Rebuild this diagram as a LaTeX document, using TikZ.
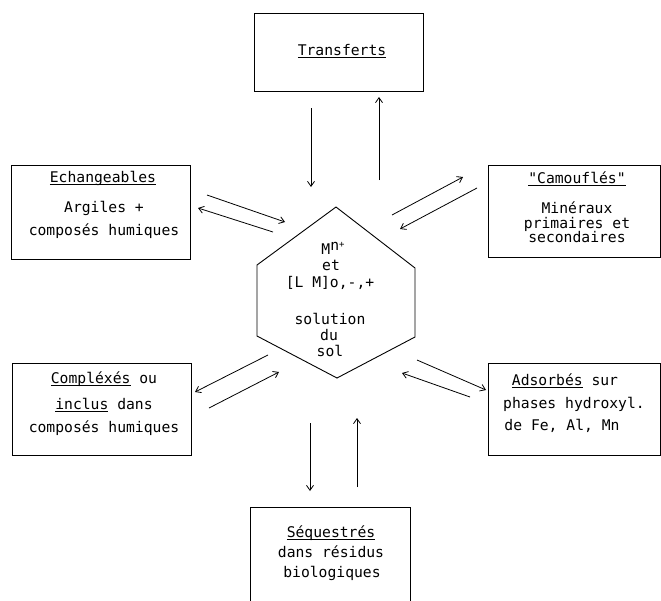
\documentclass[tikz,border=0pt]{standalone}
\usepackage{fontspec}
\newfontfamily\dvmono{DejaVu Sans Mono}
\usetikzlibrary{arrows.meta}
\newcommand\ulin[1]{\setbox0\hbox{#1}\rlap{\rule[-3pt]{\wd0}{0.8pt}}\box0\relax}
\begin{document}
\begin{tikzpicture}[x=1pt,y=-1pt,
  boxframe/.style={draw, line width=0.9pt, rectangle, inner sep=0pt},
  txt/.style={font=\fontsize{14.7}{16}\selectfont\dvmono, inner sep=0pt, anchor=base},
  flow/.style={line width=0.8pt, -{Straight Barb[length=5pt,width=7pt]}}]
\useasboundingbox (0,0) rectangle (661,600);
\clip (0,0) rectangle (661,600);
% boxes
\node[boxframe, minimum width=169pt, minimum height=78pt] (transf) at (338.5,52) {};
\node[boxframe, minimum width=179pt, minimum height=94pt] (ech) at (100.5,212) {};
\node[boxframe, minimum width=172pt, minimum height=92pt] (camo) at (574,211) {};
\node[boxframe, minimum width=179pt, minimum height=92pt] (compl) at (101.5,409) {};
\node[boxframe, minimum width=172pt, minimum height=92pt] (adsor) at (574,409) {};
\node[boxframe, minimum width=160pt, minimum height=113pt] (seq) at (330,563.5) {};
% hexagon
\coordinate (hT) at (336,207);
\coordinate (hUL) at (257,265);
\coordinate (hLL) at (257,336);
\coordinate (hB) at (337,378);
\coordinate (hLR) at (415,337);
\coordinate (hUR) at (415,268);
\draw[line width=0.9pt] (hT) -- (hUL) -- (hLL) -- (hB) -- (hLR) -- (hUR) -- cycle;
% texts
\node[txt] (tT) at (342,55) {\ulin{Transferts}};
\node[txt] (e1) at (103,182) {\ulin{Echangeables}};
\node[txt] (e2) at (104,212) {Argiles +};
\node[txt] (e3) at (104,235) {composés humiques};
\node[txt] (c1) at (577,183) {\ulin{"Camouflés"}};
\node[txt] (c2) at (577,213) {Minéraux};
\node[txt] (c3) at (577,228) {primaires et};
\node[txt] (c4) at (577,242) {secondaires};
\node[txt] (k1) at (104,383) {\ulin{Compléxés} ou};
\node[txt] (k2) at (104,409) {\ulin{inclus} dans};
\node[txt] (k3) at (104,432) {composés humiques};
\node[txt] (a1) at (565,385) {\ulin{Adsorbés} sur};
\node[txt] (a2) at (574,408) {phases hydroxyl.};
\node[txt] (a3) at (562,430) {de Fe, Al, Mn};
\node[txt] (s1) at (331,537) {\ulin{Séquestrés}};
\node[txt] (s2) at (331,557) {dans résidus};
\node[txt] (s3) at (332,577) {biologiques};
\node[txt] (h1) at (333,254) {M\raisebox{4pt}{n}\raisebox{7pt}{\fontsize{9}{9}\selectfont +}};
\node[txt] (h2) at (331,270) {et};
\node[txt] (h3) at (330,287) {[L M]o,-,+};
\node[txt] (h4) at (330,324) {solution};
\node[txt] (h5) at (329,340) {du};
\node[txt] (h6) at (330,356) {sol};
% arrow ends
\coordinate (t1a) at (311,108); \coordinate (t1b) at (311,187);
\coordinate (t2a) at (379,180); \coordinate (t2b) at (379,97);
\coordinate (e1a) at (207,195); \coordinate (e1b) at (285,222);
\coordinate (e2a) at (273,232); \coordinate (e2b) at (198,208);
\coordinate (c1a) at (392,215); \coordinate (c1b) at (463,177);
\coordinate (c2a) at (477,188); \coordinate (c2b) at (400,229);
\coordinate (k1a) at (268,355); \coordinate (k1b) at (195,392);
\coordinate (k2a) at (209,408); \coordinate (k2b) at (279,372);
\coordinate (a1a) at (417,360); \coordinate (a1b) at (486,390);
\coordinate (a2a) at (470,397); \coordinate (a2b) at (402,373);
\coordinate (s1a) at (310,423); \coordinate (s1b) at (310,491);
\coordinate (s2a) at (357,487); \coordinate (s2b) at (357,418);
\foreach \p in {t1,t2,e1,e2,c1,c2,k1,k2,a1,a2,s1,s2}
  \draw[flow] (\p a) -- (\p b);
\end{tikzpicture}
\end{document}
